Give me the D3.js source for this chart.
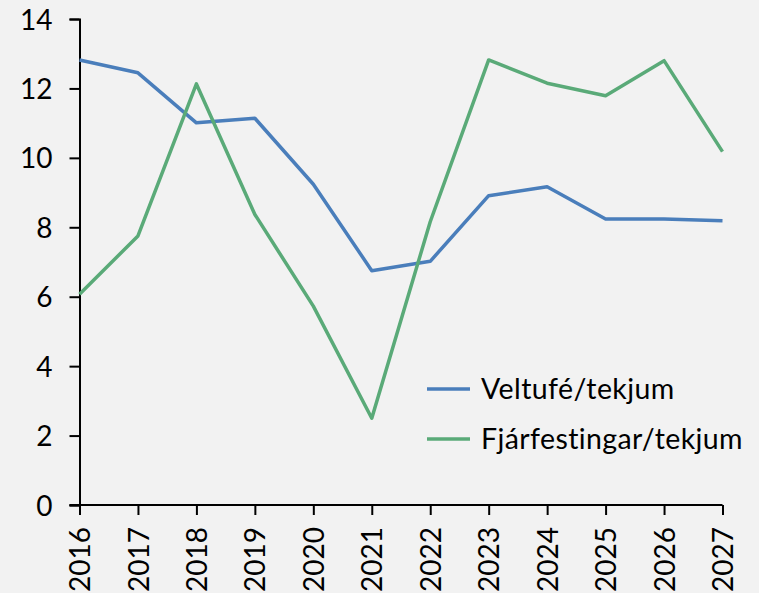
<!DOCTYPE html>
<html>
<head>
<meta charset="utf-8">
<script src="https://cdn.jsdelivr.net/npm/d3@7"></script>
<style>
  html, body { margin: 0; padding: 0; background: #f2f2f2; }
  svg { display: block; font-family: Lato, 'Open Sans', sans-serif; }
  .axis path, .axis line { stroke: #000; stroke-width: 2; }
  .axis text { fill: #000; font-size: 28px; font-family: Lato, sans-serif; }
</style>
</head>
<body>
<svg id="chart"></svg>
<script>
// chart data
let years = [2016, 2017, 2018, 2019, 2020, 2021, 2022, 2023, 2024, 2025, 2026, 2027]
let veltufe = [12.82, 12.45, 11.01, 11.14, 9.24, 6.75, 7.02, 8.91, 9.17, 8.24, 8.24, 8.19]
let fjarfestingar = [6.07, 7.75, 12.13, 8.37, 5.73, 2.5, 8.16, 12.82, 12.15, 11.79, 12.8, 10.18]
let yTicks = [0, 2, 4, 6, 8, 10, 12, 14]
let seriesNames = ['Veltufé/tekjum', 'Fjárfestingar/tekjum']
let seriesColors = ['#4a7ebb', '#5aaa78']

let outerWidth = 759
let outerHeight = 593
let margins = { top: 19, bottom: 88, left: 79.5, right: 36.5 }

let svg = d3.select('svg#chart')
  .attr('width', outerWidth)
  .attr('height', outerHeight)

svg.append('rect')
  .attr('width', outerWidth)
  .attr('height', outerHeight)
  .attr('fill', '#f2f2f2')

let xScale = d3.scalePoint()
  .domain(years)
  .range([margins.left, outerWidth - margins.right])

let yScale = d3.scaleLinear()
  .domain([0, 14])
  .range([outerHeight - margins.bottom, margins.top])

// y axis
let yAxis = d3.axisLeft(yScale).tickValues(yTicks).tickSize(10).tickPadding(17)
svg.append('g')
  .attr('class', 'y axis')
  .attr('transform', `translate(${margins.left},0)`)
  .call(yAxis)
  .call(g => g.selectAll('text').attr('dy', '0.36em'))

// x axis with rotated labels
let xAxis = d3.axisBottom(xScale).tickSize(10).tickSizeOuter(0)
svg.append('g')
  .attr('class', 'x axis')
  .attr('transform', `translate(0,${outerHeight - margins.bottom})`)
  .call(xAxis)
  .call(g => g.select('.domain').attr('d', `M${margins.left - 10},0H${outerWidth - margins.right}`))
  .call(g => g.selectAll('text')
    .attr('transform', 'rotate(-90)')
    .attr('text-anchor', 'end')
    .attr('x', -22)
    .attr('y', 0)
    .attr('dy', '0.36em'))

// lines
let series = [veltufe, fjarfestingar]
let line = d3.line()
  .x((d, i) => xScale(years[i]))
  .y(d => yScale(d))

svg.selectAll('path.series')
  .data(series)
  .join('path')
  .attr('class', 'series')
  .attr('d', d => line(d))
  .attr('fill', 'none')
  .attr('stroke', (d, i) => seriesColors[i])
  .attr('stroke-width', 3.5)
  .attr('stroke-linejoin', 'round')

// legend
let legend = svg.append('g').attr('transform', 'translate(427,389)')
let items = legend.selectAll('g')
  .data(seriesNames)
  .join('g')
  .attr('transform', (d, i) => `translate(0,${i * 50})`)
items.append('line')
  .attr('x1', 0).attr('x2', 43)
  .attr('stroke', (d, i) => seriesColors[i])
  .attr('stroke-width', 3.5)
items.append('text')
  .attr('x', 54)
  .attr('dy', '0.36em')
  .attr('font-size', 28.5)
  .attr('letter-spacing', 0.4)
  .attr('fill', '#000')
  .text(d => d)
</script>
</body>
</html>
